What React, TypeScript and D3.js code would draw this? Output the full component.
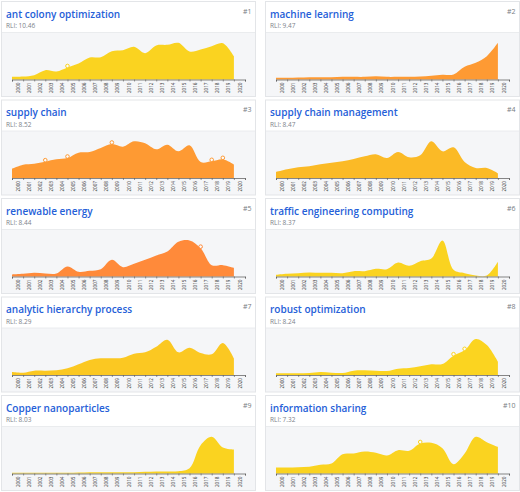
import React, { useEffect, useRef } from 'react';
import * as d3 from 'd3';

const titles = [
  'ant colony optimization', 'machine learning', 'supply chain', 'supply chain management',
  'renewable energy', 'traffic engineering computing', 'analytic hierarchy process',
  'robust optimization', 'Copper nanoparticles', 'information sharing',
];
const rli = ['10.46', '9.47', '8.52', '8.47', '8.44', '8.37', '8.29', '8.24', '8.03', '7.32'];
const colors = ['#fad320', '#fe9a33', '#fe9a33', '#fbba26', '#ff8a3a', '#fad320', '#fbc822', '#fbd420', '#fad320', '#fad320'];
const years = d3.range(2000, 2021);

const antColony = [8, 9, 13, 28, 24, 36, 48, 66, 67, 85, 88, 98, 79, 102, 104, 110, 84, 90, 100, 109, 70];
const machineLearning = [5, 5, 6, 7, 7, 7, 8, 8, 8, 10, 8, 8, 8, 9, 11, 14, 15, 38, 50, 70, 110];
const supplyChain = [28, 40, 43, 49, 56, 60, 76, 78, 90, 102, 94, 110, 104, 86, 100, 80, 98, 48, 50, 56, 40];
const supplyChainMgmt = [18, 26, 32, 35, 41, 46, 50, 57, 65, 71, 60, 78, 62, 68, 110, 80, 92, 48, 30, 30, 14];
const renewableEnergy = [6, 8, 11, 9, 9, 30, 14, 17, 22, 50, 28, 38, 50, 63, 75, 104, 108, 85, 34, 34, 26];
const trafficEngineering = [5, 8, 10, 12, 11, 11, 10, 16, 16, 23, 22, 42, 32, 46, 54, 108, 20, 10, 3, 3, 44];
const analyticHierarchy = [9, 7, 13, 13, 14, 20, 32, 45, 50, 50, 52, 64, 68, 85, 106, 68, 82, 66, 62, 96, 50];
const robustOptimization = [5, 5, 5, 6, 9, 7, 6, 13, 14, 13, 12, 19, 21, 26, 32, 33, 58, 74, 108, 90, 40];
const copperNano = [2, 2, 2, 2, 2, 2, 3, 4, 4, 4, 4, 4, 5, 6, 6, 7, 16, 85, 110, 78, 72];
const infoSharing = [18, 18, 19, 20, 26, 30, 58, 60, 66, 62, 54, 70, 68, 90, 92, 76, 28, 60, 110, 94, 80];
const series = [antColony, machineLearning, supplyChain, supplyChainMgmt, renewableEnergy, trafficEngineering,
  analyticHierarchy, robustOptimization, copperNano, infoSharing];

// years with a hollow marker on the curve, per card
const bursts = [[2005], [], [2003, 2005, 2009, 2018, 2019], [], [2017], [], [], [2016, 2017], [], [2013]];

const font = '"Open Sans", "Noto Sans", sans-serif';
const cardW = 254;
const cardH = 95;

const App: React.FC = () => {
  const ref = useRef<SVGSVGElement>(null);

  useEffect(() => {
    const svg = d3.select(ref.current);
    svg.selectAll('*').remove();

    const x = d3.scaleLinear().domain([2000, 2021]).range([10.5, 243.5]);
    const y = d3.scaleLinear().domain([0, 111]).range([78, 41]);

    titles.forEach((title, i) => {
      const col = i % 2;
      const row = Math.floor(i / 2);
      const g = svg.append('g')
        .attr('transform', `translate(${col === 0 ? 1.5 : 265.5}, ${1.5 + row * 98.5})`);

      g.append('rect').attr('width', cardW).attr('height', cardH).attr('fill', '#fff');
      g.append('rect').attr('y', 31).attr('width', cardW).attr('height', cardH - 31).attr('fill', '#f5f6f8');
      g.append('line').attr('x1', 0).attr('x2', cardW).attr('y1', 31).attr('y2', 31)
        .attr('stroke', '#e6e8eb').attr('stroke-width', 0.8);
      g.append('rect').attr('width', cardW).attr('height', cardH).attr('fill', 'none')
        .attr('stroke', '#e3e5e8').attr('stroke-width', 1);

      g.append('text').attr('x', 4.5).attr('y', 16)
        .style('font-family', font).style('font-size', '10px').style('font-weight', 600)
        .attr('fill', '#2560d8').text(title);
      g.append('text').attr('x', 4.5).attr('y', 26.5)
        .style('font-family', font).style('font-size', '6.5px')
        .attr('fill', '#7d828a').text(`RLI:  ${rli[i]}`);
      g.append('text').attr('x', cardW - 4).attr('y', 12).attr('text-anchor', 'end')
        .style('font-family', font).style('font-size', '7px')
        .attr('fill', '#777c82').text(`#${i + 1}`);

      const values = series[i];
      const area = d3.area<number>()
        .x((_, k) => x(years[k]))
        .y0(y(0))
        .y1(d => y(d))
        .curve(d3.curveCatmullRom.alpha(0.5));
      g.append('path').attr('d', area(values)).attr('fill', colors[i]);

      const axis = d3.axisBottom(x)
        .tickValues(d3.range(2000, 2022))
        .tickFormat(d => (+d <= 2020 ? String(d) : ''))
        .tickSize(2)
        .tickPadding(1);
      const ag = g.append('g').attr('transform', `translate(0, ${y(0)})`).call(axis);
      ag.select('.domain').attr('stroke', '#555').attr('stroke-width', 0.7);
      ag.selectAll('.tick line').attr('stroke', '#555').attr('stroke-width', 0.6);
      ag.selectAll<SVGTextElement, number>('.tick text')
        .attr('transform', 'translate(5.5, 3) rotate(-90)')
        .attr('x', 0).attr('y', 0).attr('dy', '0.35em')
        .attr('text-anchor', 'end')
        .style('font-family', font).style('font-size', '4.6px')
        .attr('fill', '#333');

      bursts[i].forEach(year => {
        g.append('circle')
          .attr('cx', x(year))
          .attr('cy', y(values[year - 2000]) - 1.5)
          .attr('r', 1.8)
          .attr('fill', '#fff')
          .attr('fill-opacity', 0.7)
          .attr('stroke', colors[i])
          .attr('stroke-width', 1);
      });
    });
  }, []);

  return (
    <svg ref={ref} width={520} height={492} style={{ position: 'absolute', left: 0, top: 0 }} />
  );
};

export default App;
